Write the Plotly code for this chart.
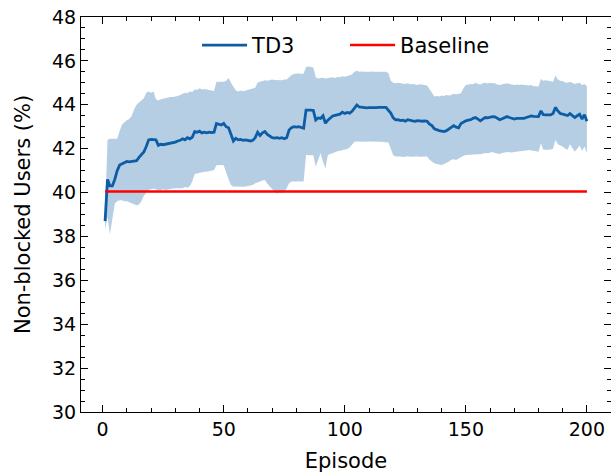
import plotly.graph_objects as go

episodes = list(range(1, 201))

td3_mean = [
    38.7, 40.6, 40.3, 40.3, 40.6, 41.0, 41.25, 41.3, 41.35, 41.42,
    41.4, 41.42, 41.43, 41.45, 41.6, 41.75, 41.85, 42.1, 42.4, 42.42,
    42.42, 42.4, 42.15, 42.2, 42.18, 42.2, 42.22, 42.25, 42.27, 42.3,
    42.35, 42.38, 42.45, 42.4, 42.5, 42.45, 42.52, 42.78, 42.75, 42.8,
    42.72, 42.75, 42.72, 42.75, 42.73, 42.75, 43.15, 43.12, 43.08, 43.15,
    43.0, 42.95, 42.6, 42.35, 42.47, 42.4, 42.42, 42.38, 42.4, 42.38,
    42.35, 42.38, 42.5, 42.75, 42.6, 42.72, 42.78, 42.65, 42.58, 42.5,
    42.48, 42.5, 42.47, 42.5, 42.45, 42.5, 42.85, 42.96, 43.0, 42.98,
    43.0, 42.95, 42.93, 43.76, 43.77, 43.76, 43.74, 43.31, 43.4, 43.38,
    43.5, 43.16, 43.3, 43.4, 43.49, 43.52, 43.55, 43.57, 43.66, 43.6,
    43.65, 43.62, 43.7, 43.85, 43.99, 43.9, 43.88, 43.85, 43.86, 43.87,
    43.86, 43.88, 43.87, 43.88, 43.87, 43.88, 43.88, 43.75, 43.62, 43.4,
    43.31, 43.32, 43.28, 43.3, 43.25, 43.32, 43.28, 43.27, 43.25, 43.28,
    43.27, 43.25, 43.27, 43.25, 43.12, 43.05, 42.9, 42.85, 42.82, 42.8,
    42.78, 42.82, 42.9, 42.98, 43.05, 42.98, 42.95, 43.15, 43.23, 43.27,
    43.3, 43.32, 43.38, 43.42, 43.35, 43.27, 43.35, 43.42, 43.4, 43.44,
    43.46, 43.45, 43.38, 43.32, 43.36, 43.42, 43.46, 43.42, 43.38, 43.35,
    43.38, 43.37, 43.38, 43.38, 43.42, 43.45, 43.49, 43.47, 43.48, 43.46,
    43.72, 43.55, 43.54, 43.55, 43.54, 43.6, 43.88, 43.72, 43.6, 43.57,
    43.53, 43.51, 43.6, 43.5, 43.42, 43.5, 43.57, 43.35, 43.55, 43.25,
]

td3_upper = [
    39.1, 42.4, 42.45, 42.45, 42.45, 42.45, 42.8, 43.1, 43.2, 43.3,
    43.35, 43.5, 43.8, 44.0, 44.1, 44.2, 44.3, 44.55, 44.6, 44.55,
    44.6, 44.25, 44.2, 44.25, 44.28, 44.3, 44.32, 44.35, 44.35, 44.37,
    44.4, 44.45, 44.5, 44.55, 44.52, 44.6, 44.58, 44.7, 44.68, 44.75,
    44.7, 44.72, 44.7, 44.68, 44.65, 44.63, 45.05, 45.05, 45.08, 45.05,
    45.1, 45.22, 45.0, 44.83, 44.65, 44.6, 44.65, 44.62, 44.65, 44.68,
    44.7, 44.72, 44.78, 45.02, 45.05, 45.1, 45.12, 45.1, 45.12, 45.15,
    45.13, 45.12, 45.14, 45.12, 45.15, 45.15, 45.25, 45.36, 45.4, 45.42,
    45.44, 45.4, 45.42, 45.72, 45.75, 45.72, 45.7, 45.25, 45.2, 45.22,
    45.23, 45.2, 45.22, 45.22, 45.25, 45.22, 45.28, 45.25, 45.3, 45.28,
    45.3, 45.35, 45.38, 45.5, 45.55, 45.5, 45.52, 45.5, 45.51, 45.5,
    45.52, 45.5, 45.5, 45.52, 45.5, 45.5, 45.5, 45.45, 45.1, 45.0,
    44.98, 45.0, 44.98, 44.97, 44.95, 44.98, 44.93, 44.95, 44.92, 44.9,
    44.93, 44.9, 44.9, 44.88, 44.7, 44.5, 44.38, 44.4, 44.38, 44.42,
    44.4, 44.45, 44.42, 44.45, 44.5, 44.48, 44.5, 44.52, 44.75, 44.9,
    44.92, 44.95, 44.93, 45.0, 44.95, 44.92, 44.98, 45.0, 44.97, 45.0,
    44.98, 44.98, 44.92, 44.9, 44.93, 44.95, 44.98, 44.95, 44.92, 44.9,
    44.92, 44.9, 44.92, 44.9, 44.9, 44.88, 44.9, 44.85, 44.85, 44.83,
    45.18, 45.1, 45.12, 45.1, 45.1, 45.05, 45.33, 45.15, 45.1, 45.08,
    45.02, 45.0, 45.05, 45.0, 44.95, 44.98, 45.0, 44.9, 44.95, 44.85,
]

td3_lower = [
    38.3, 38.9, 38.1, 38.8, 39.5, 39.6, 39.65, 39.65, 39.6, 39.6,
    39.55, 39.5, 39.45, 39.42, 39.45, 39.6, 39.85, 40.0, 40.12, 40.15,
    40.18, 40.15, 40.1, 40.12, 40.15, 40.12, 40.15, 40.15, 40.18, 40.2,
    40.2, 40.22, 40.2, 40.25, 40.22, 40.3, 40.5, 40.85, 40.88, 40.9,
    40.92, 40.95, 40.95, 40.97, 41.0, 41.03, 41.25, 41.27, 41.26, 41.25,
    40.88, 40.6, 40.35, 40.27, 40.28, 40.27, 40.26, 40.27, 40.28, 40.3,
    40.32, 40.35, 40.42, 40.45, 40.5, 40.55, 40.57, 40.4, 40.27, 40.15,
    40.04, 39.96, 40.0, 39.98, 40.02, 40.2, 40.42, 40.5, 40.5, 40.52,
    40.53, 40.5, 40.5, 41.71, 41.72, 41.7, 41.7, 41.18, 41.5, 41.79,
    41.4, 41.1, 41.71, 41.75, 41.8, 41.86, 41.88, 41.9, 41.92, 41.95,
    41.98, 42.05, 42.2, 42.32, 42.33, 42.32, 42.33, 42.32, 42.32, 42.33,
    42.32, 42.32, 42.3, 42.32, 42.32, 42.3, 42.3, 42.28, 42.0, 41.7,
    41.64, 41.65, 41.64, 41.62, 41.64, 41.65, 41.63, 41.64, 41.62, 41.64,
    41.63, 41.64, 41.62, 41.64, 41.5, 41.4, 41.33, 41.3, 41.28, 41.26,
    41.3, 41.35, 41.42, 41.5, 41.52, 41.48, 41.55, 41.64, 41.68, 41.71,
    41.72, 41.74, 41.73, 41.76, 41.75, 41.74, 41.78, 41.8, 41.79, 41.82,
    41.85, 41.8, 41.78, 41.76, 41.8, 41.83, 41.85, 41.84, 41.82, 41.85,
    41.86, 41.88, 41.87, 41.9, 41.92, 41.94, 41.93, 41.9, 41.88, 41.86,
    42.25, 41.95, 41.94, 41.95, 41.96, 42.0, 42.4, 42.2, 42.14, 42.1,
    42.0, 41.95, 42.2, 42.0, 41.86, 42.0, 42.15, 41.9, 42.1, 41.79,
]

baseline_value = 40.05
baseline = [baseline_value] * len(episodes)

x_ticks = [0, 50, 100, 150, 200]
y_ticks = [30, 32, 34, 36, 38, 40, 42, 44, 46, 48]

BLUE = "#0C5DA5"
BAND = "rgba(12,93,165,0.3)"
FONT = "DejaVu Sans"

fig = go.Figure()
fig.add_trace(go.Scatter(x=episodes, y=td3_upper, mode="lines",
                         line=dict(width=0), showlegend=False, hoverinfo="skip"))
fig.add_trace(go.Scatter(x=episodes, y=td3_lower, mode="lines",
                         line=dict(width=0), fill="tonexty", fillcolor=BAND,
                         showlegend=False, hoverinfo="skip"))
fig.add_trace(go.Scatter(x=episodes, y=td3_mean, mode="lines", name="TD3",
                         line=dict(color=BLUE, width=2.8)))
fig.add_trace(go.Scatter(x=episodes, y=baseline, mode="lines", name="Baseline",
                         line=dict(color="#FF0000", width=2.6)))

axis_common = dict(
    showgrid=False, zeroline=False, showline=True, linecolor="black",
    linewidth=1.2, mirror="allticks", ticks="inside", ticklen=7, tickwidth=1.2,
    tickcolor="black", tickfont=dict(family=FONT, size=19, color="black"),
)

fig.update_xaxes(
    range=[-8.95, 209.95], tickvals=x_ticks,
    title=dict(text="Episode", font=dict(family=FONT, size=21, color="black"), standoff=14),
    minor=dict(dtick=10, tick0=0, ticks="inside", ticklen=4, tickwidth=1, tickcolor="black"),
    **axis_common,
)
fig.update_yaxes(
    range=[30, 48], tickvals=y_ticks,
    title=dict(text="Non-blocked Users (%)", font=dict(family=FONT, size=21, color="black"), standoff=15),
    minor=dict(dtick=0.5, tick0=0, ticks="inside", ticklen=4, tickwidth=1, tickcolor="black"),
    **axis_common,
)

fig.update_layout(
    width=611, height=476,
    margin=dict(l=81, r=0, t=17, b=64),
    plot_bgcolor="white", paper_bgcolor="white",
    font=dict(family=FONT, size=19, color="black"),
    legend=dict(orientation="h", x=0.219, xanchor="left", y=0.98, yanchor="top",
                traceorder="normal",
                bgcolor="rgba(0,0,0,0)", font=dict(family=FONT, size=21, color="black"),
                itemwidth=45, entrywidth=88),
    showlegend=True,
)

fig.write_html("out.html")
